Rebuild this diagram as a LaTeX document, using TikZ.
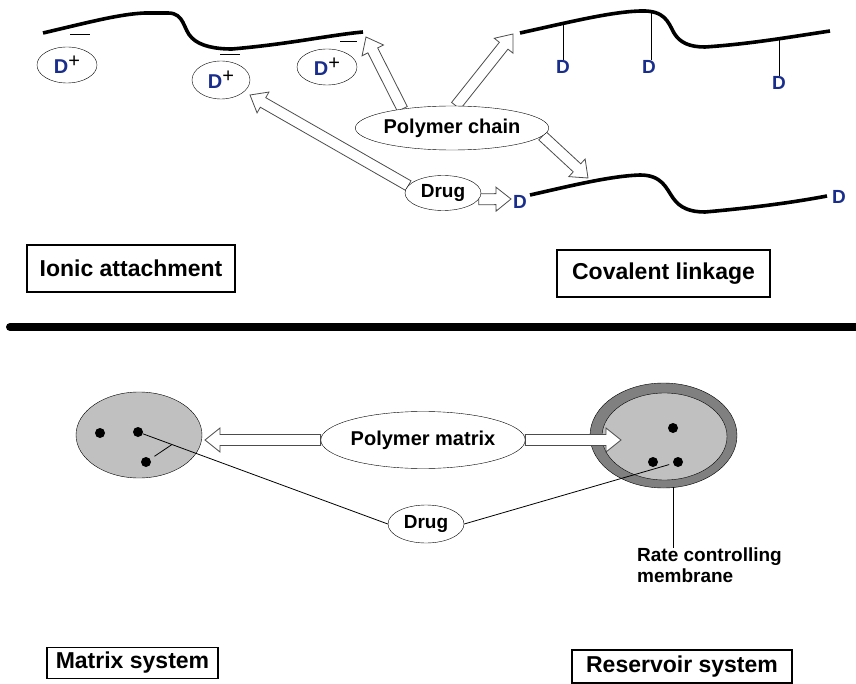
\documentclass[tikz,border=0pt]{standalone}
\usepackage{fontspec}
\setmainfont{Liberation Sans}
\usetikzlibrary{shapes,calc,positioning,backgrounds}

\definecolor{dblue}{RGB}{25,45,140}
\definecolor{fillgray}{RGB}{192,192,192}
\definecolor{rimgray}{RGB}{128,128,128}

\newcommand\bigfont{\fontsize{23}{26}\selectfont\bfseries}
\newcommand\midfont{\fontsize{20}{22}\selectfont\bfseries}
\newcommand\smallfont{\fontsize{19}{21}\selectfont\bfseries}
\newcommand\dplus{\textcolor{dblue}{D}\raisebox{6pt}{\fontsize{20}{20}\selectfont\mdseries +}}

% open block arrow from #1 to #2
\newcommand\hollowarrow[2]{%
  \coordinate (ha) at (#1);
  \coordinate (hb) at (#2);
  \coordinate (hh) at ($(hb)!15pt!(ha)$);
  \draw[blockarrow] ($(ha)!5.5pt!90:(hb)$) -- ($(hh)!5.5pt!90:(hb)$) -- ($(hh)!12pt!90:(hb)$)
    -- (hb) -- ($(hh)!12pt!-90:(hb)$) -- ($(hh)!5.5pt!-90:(hb)$) -- ($(ha)!5.5pt!-90:(hb)$) -- cycle;}

\begin{document}
\begin{tikzpicture}[x=1pt, y=-1pt,
    blob/.style={ellipse, draw, fill=white, inner sep=0pt, font=\midfont},
    labelbox/.style={draw, line width=1.1pt, fill=white, inner sep=0pt, font=\bigfont},
    dlabel/.style={inner sep=0pt, text=dblue, font=\smallfont},
    chain/.style={line width=3.6pt},
    stem/.style={line width=1pt},
    blockarrow/.style={draw=black!70, fill=white, line width=0.8pt},
    leader/.style={line width=0.8pt},
    dot/.style={circle, fill=black, inner sep=0pt, minimum size=10pt}]
  \useasboundingbox (0,0) rectangle (856,684);

  % polymer backbones
  \draw[chain] (43,33) .. controls (90,22) and (120,14) .. (145,13) -- (168,13)
    .. controls (185,13) and (183,30) .. (192,38) .. controls (200,46) and (215,49) .. (232,49)
    .. controls (290,44) and (330,35) .. (363,32);
  \draw[chain] (520,33) .. controls (570,22) and (610,12) .. (640,11)
    .. controls (665,10) and (668,22) .. (674,33) .. controls (680,43) and (690,47) .. (705,47)
    .. controls (750,44) and (790,37) .. (830,31);
  \draw[chain] (530,195) .. controls (570,186) and (610,176) .. (640,175)
    .. controls (662,175) and (666,188) .. (673,198) .. controls (680,208) and (690,212) .. (705,212)
    .. controls (750,208) and (790,203) .. (827,196);
  \draw[stem] (70,35) -- (90,35) (220,55) -- (240,55) (340,42) -- (357,42);

  \node[blob, minimum width=60pt, minimum height=36pt] (dplus1) at (67,65) {\dplus};
  \node[blob, minimum width=58pt, minimum height=38pt] (dplus2) at (221,80) {\dplus};
  \node[blob, minimum width=60pt, minimum height=36pt] (dplus3) at (327,67) {\dplus};
  \node[blob, minimum width=160pt, minimum height=44pt] (pchain) at (452,128) {Polymer chain};
  \node[blob, minimum width=76pt, minimum height=35pt, font=\smallfont] (drugA) at (443,193) {Drug};

  \node[dlabel] (dcov1) at (563,67) {D};
  \node[dlabel] (dcov2) at (649,67) {D};
  \node[dlabel] (dcov3) at (779,83) {D};
  \node[dlabel] (dend1) at (520,202) {D};
  \node[dlabel] (dend2) at (839,197) {D};
  \coordinate (s1) at (563,23);
  \coordinate (s2) at (651,10);
  \coordinate (s3) at (779,39);
  \draw[stem] (s1) -- (dcov1.north) (s2) -- (s2 |- dcov2.north) (s3) -- (dcov3.north);

  \coordinate (tipA) at (366,37);
  \coordinate (tipB) at (513,34);
  \coordinate (tipC) at (588,178);
  \coordinate (tipD) at (250,95);
  \coordinate (tipE) at (511,199);
  \begin{pgfonlayer}{background}
    \hollowarrow{pchain.159}{tipA}
    \hollowarrow{pchain.80}{tipB}
    \hollowarrow{pchain.-5}{tipC}
    \hollowarrow{drugA.168}{tipD}
    \hollowarrow{drugA.-10}{tipE}
  \end{pgfonlayer}

  \node[labelbox, minimum width=208pt, minimum height=47pt] (ionic) at (131,268.5) {Ionic attachment};
  \node[labelbox, minimum width=213pt, minimum height=47pt] (covalent) at (663.5,273.5) {Covalent linkage};

  \draw[line width=8pt, line cap=round] (10,327) -- (860,327);

  % delivery systems
  \node[ellipse, draw, fill=fillgray, minimum width=126pt, minimum height=86pt] (matrix) at (139,435) {};
  \node[dot] (mdot1) at (100,433) {};
  \node[dot] (mdot2) at (138,432) {};
  \node[dot] (mdot3) at (146,462) {};

  \node[blob, minimum width=190pt, minimum height=57pt] (pmatrix) at (423,440) {Polymer matrix};
  \node[blob, minimum width=76pt, minimum height=38pt, font=\smallfont] (drugB) at (426,524) {Drug};

  \coordinate (tipF) at (205,440);
  \coordinate (tipG) at (621,440);
  \begin{pgfonlayer}{background}
    \node[ellipse, draw, fill=rimgray, minimum width=147pt, minimum height=105pt] (reservoir) at (663.5,435.5) {};
    \node[ellipse, draw, fill=fillgray, minimum width=125pt, minimum height=87pt] (core) at (664.5,436.5) {};
    \hollowarrow{pmatrix.west}{tipF}
    \hollowarrow{pmatrix.east}{tipG}
  \end{pgfonlayer}
  \node[dot] (rdot1) at (673,428) {};
  \node[dot] (rdot2) at (653,462) {};
  \node[dot] (rdot3) at (678,462) {};

  \draw[leader] (mdot2) -- (drugB.west);
  \draw[leader, shorten >=5pt] ($(mdot2)!0.136!(drugB.west)$) -- (mdot3);
  \draw[leader, shorten >=4pt] (drugB.east) -- (rdot3);

  \coordinate (rim) at (673,487);
  \node[anchor=north west, align=left, inner sep=0pt, font=\smallfont] (membrane) at (637,548)
    {Rate controlling\\membrane};
  \draw[leader] (rim) -- (rim |- membrane.north);

  \node[labelbox, minimum width=171pt, minimum height=31pt] (msys) at (132.5,663) {Matrix system};
  \node[labelbox, minimum width=220pt, minimum height=33pt] (rsys) at (682,666.5) {Reservoir system};
\end{tikzpicture}
\end{document}
